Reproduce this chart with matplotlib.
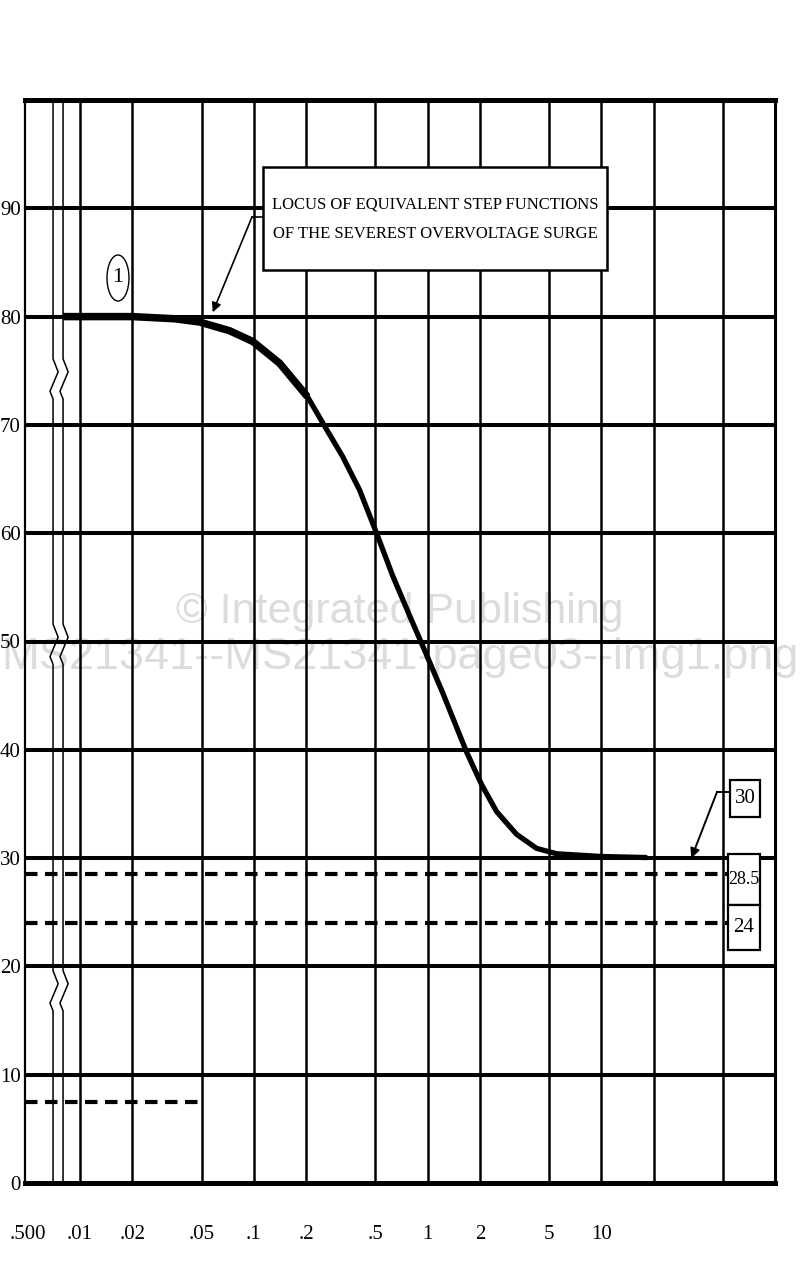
import matplotlib
matplotlib.use('Agg')
import matplotlib.pyplot as plt
from matplotlib.patches import Ellipse, Rectangle

plt.rcParams['font.family'] = ['Liberation Serif', 'DejaVu Serif']

# --- data ---
y_grid = [10, 20, 30, 40, 50, 60, 70, 80, 90]
y_ticks = [0, 10, 20, 30, 40, 50, 60, 70, 80, 90]
y_tick_labels = ['0', '10', '20', '30', '40', '50', '60', '70', '80', '90']
x_grid = [0.01, 0.02, 0.05, 0.1, 0.2, 0.5, 1, 2, 5, 10, 20, 50]
x_ticks = [0.005, 0.01, 0.02, 0.05, 0.1, 0.2, 0.5, 1, 2, 5, 10]
x_tick_labels = ['.500', '.01', '.02', '.05', '.1', '.2', '.5', '1', '2', '5', '10']
break_x = [0.00699, 0.00798]
zig_centres = [74.3, 49.8, 17.8]

# locus curve (time, per cent overvoltage)
curve_x = [0.00798, 0.01, 0.02, 0.035, 0.0487, 0.0724, 0.0987, 0.1406, 0.2037,
           0.262, 0.324, 0.406, 0.509, 0.629, 0.788, 0.961, 1.22, 1.677, 2.046,
           2.496, 3.253, 4.242, 5.53, 10.0, 18.4]
curve_y = [80, 80, 80, 79.8, 79.5, 78.7, 77.7, 75.7, 72.6,
           69.6, 67.1, 64.0, 60.0, 56.1, 52.4, 49.2, 45.3, 39.8, 36.8,
           34.3, 32.2, 30.9, 30.4, 30.15, 30.05]
n_thick = 9  # upper part of the locus is drawn heavier

dashed_levels = [28.5, 24]
dashed_end = 53.4
low_dash_level = 7.5
low_dash_end = 0.05

box_title = 'LOCUS OF EQUIVALENT STEP FUNCTIONS\nOF THE SEVEREST OVERVOLTAGE SURGE'
right_labels = ['30', '28.5', '24']


def px(x, y):
    # pixel position of the reference -> axes fraction
    return ((x - 25) / 750, (1183 - y) / 1083)


fig = plt.figure(figsize=(8, 12.71), dpi=100)
ax = fig.add_axes([25 / 800, 88 / 1271, 750 / 800, 1083 / 1271])
ax.patch.set_alpha(0)
ax.set_xscale('log')
ax.set_xlim(0.00482, 100)
ax.set_ylim(0, 100)

# grid
for v in y_grid:
    ax.axhline(v, color='black', lw=2.9, zorder=1)
for v in x_grid:
    ax.axvline(v, color='black', lw=1.8, zorder=1)

# broken-axis lines with zigzags
for bx in break_x:
    xs, ys = [bx], [100]
    for c in zig_centres:
        xs += [bx, bx * 1.07, bx * 0.96, bx]
        ys += [c + 1.8, c + 0.6, c - 1.2, c - 1.9]
    xs.append(bx)
    ys.append(0)
    ax.plot(xs, ys, color='black', lw=1.1, zorder=1)

for side, lw in [('top', 3.6), ('bottom', 3.6), ('left', 1.6), ('right', 2.2)]:
    ax.spines[side].set_linewidth(lw)

# dashed reference levels
for lev in dashed_levels:
    ax.plot([0.00482, dashed_end], [lev, lev], color='black', lw=3.0,
            dashes=(3, 1.8), zorder=2)
ax.plot([0.00482, low_dash_end], [low_dash_level, low_dash_level],
        color='black', lw=3.0, dashes=(3, 1.8), zorder=2)

# locus curve
ax.plot(curve_x, curve_y, color='black', lw=3.8, solid_capstyle='butt',
        solid_joinstyle='round', zorder=3)
ax.plot(curve_x[:n_thick], curve_y[:n_thick], color='black', lw=5.4,
        solid_capstyle='butt', solid_joinstyle='round', zorder=3)

# ticks
ax.set_yticks(y_ticks)
ax.set_yticklabels(y_tick_labels, fontsize=15)
ax.set_xticks(x_ticks)
ax.set_xticklabels(x_tick_labels, fontsize=15)
ax.minorticks_off()
ax.tick_params(axis='y', length=0, pad=3)
ax.tick_params(axis='x', length=0, pad=30)

# title box with arrow
x0, y0 = px(263, 270)
x1, y1 = px(607, 167)
ax.add_patch(Rectangle((x0, y0), x1 - x0, y1 - y0, transform=ax.transAxes,
                       facecolor='white', edgecolor='black', lw=1.8, zorder=4))
tx, ty = px(435, 219)
ax.text(tx, ty, box_title, transform=ax.transAxes, ha='center', va='center',
        fontsize=12, linespacing=2.1, zorder=5)
a0 = px(263, 217)
a1 = px(252, 217)
ax.plot([a0[0], a1[0]], [a0[1], a1[1]], transform=ax.transAxes, color='black',
        lw=1.2, zorder=4)
ax.annotate('', xy=(0.058, 80.4), xycoords='data', xytext=a1,
            textcoords='axes fraction',
            arrowprops=dict(arrowstyle='-|>', color='black', lw=1.2,
                            mutation_scale=14, shrinkA=0, shrinkB=0), zorder=5)

# circled "1"
cx, cy = px(118, 278)
ax.add_patch(Ellipse((cx, cy), 22 / 750, 46 / 1083, transform=ax.transAxes,
                     facecolor='white', edgecolor='black', lw=1.0, zorder=4))
ax.text(cx, cy, '1', transform=ax.transAxes, ha='center', va='center',
        fontsize=16, zorder=5)

# right-hand value boxes
boxes = [(730, 780, 760, 817), (728, 854, 760, 905), (728, 905, 760, 950)]
label_sizes = [15, 13, 15]
for lab, (bl, bt, br, bb), fs in zip(right_labels, boxes, label_sizes):
    p0 = px(bl, bb)
    p1 = px(br, bt)
    ax.add_patch(Rectangle(p0, p1[0] - p0[0], p1[1] - p0[1], transform=ax.transAxes,
                           facecolor='white', edgecolor='black', lw=1.6, zorder=4))
    ax.text((p0[0] + p1[0]) / 2, (p0[1] + p1[1]) / 2, lab, transform=ax.transAxes,
            ha='center', va='center', fontsize=fs, zorder=5)
b0 = px(730, 792)
b1 = px(717, 792)
ax.plot([b0[0], b1[0]], [b0[1], b1[1]], transform=ax.transAxes, color='black',
        lw=1.4, zorder=4)
ax.annotate('', xy=(33, 30), xycoords='data', xytext=b1, textcoords='axes fraction',
            arrowprops=dict(arrowstyle='-|>', color='black', lw=1.4,
                            mutation_scale=14, shrinkA=0, shrinkB=0), zorder=5)

# watermark (sits behind the grid)
fig.text(0.5, 1 - 612 / 1271, '© Integrated Publishing', ha='center', va='center',
         fontsize=31, color='#dcdcdc', family='Liberation Sans', zorder=-1)
fig.text(0.5, 1 - 657 / 1271, 'MS21341--MS21341-page03--img1.png', ha='center',
         va='center', fontsize=32.5, color='#dcdcdc', family='Liberation Sans',
         zorder=-1)

fig.savefig('out.png', dpi=100)
